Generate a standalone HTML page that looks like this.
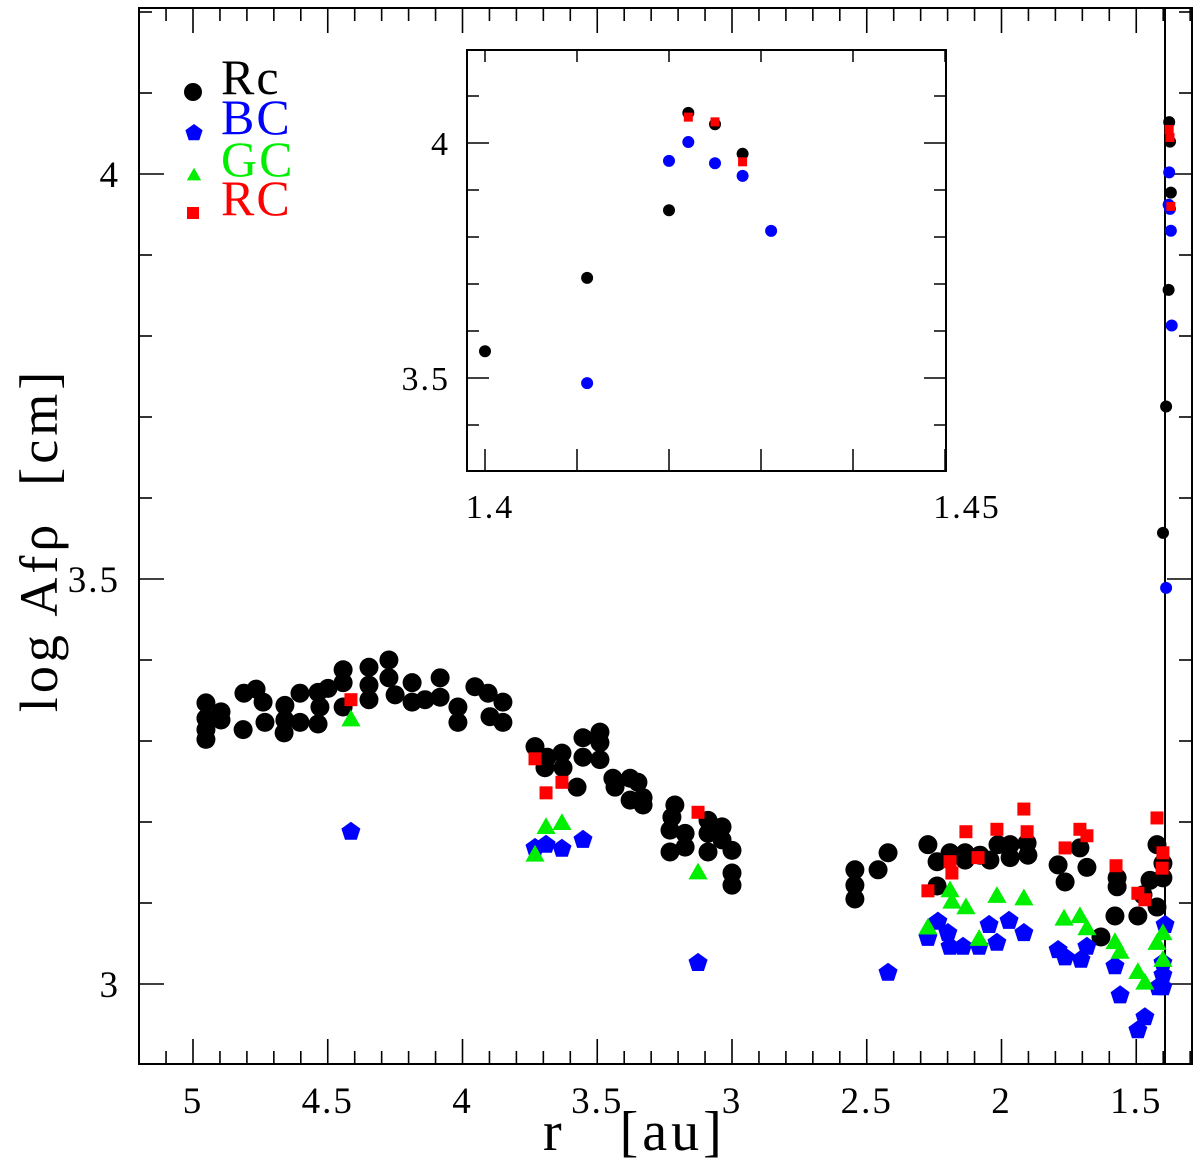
<!DOCTYPE html>
<html><head><meta charset="utf-8"><style>
html,body{margin:0;padding:0;background:#fff;width:1200px;height:1160px;overflow:hidden}
svg text{font-family:"Liberation Serif",serif;white-space:pre}
</style></head><body>
<svg id="chart" width="1200" height="1160" viewBox="0 0 1200 1160" xmlns="http://www.w3.org/2000/svg"></svg>
<script>
// ---- main data ----
const rcR=[4.952,4.952,4.952,4.952,4.896,4.896,4.811,4.766,4.814,4.740,4.733,4.659,4.659,4.662,4.603,4.603,4.536,4.529,4.536,4.499,4.443,4.443,4.443,4.347,4.347,4.347,4.273,4.273,4.250,4.187,4.187,4.139,4.083,4.083,4.017,4.017,3.954,3.905,3.898,3.850,3.850,3.731,3.686,3.694,3.631,3.627,3.575,3.553,3.490,3.490,3.553,3.490,3.442,3.434,3.378,3.349,3.378,3.330,3.330,3.212,3.223,3.230,3.230,3.174,3.174,3.089,3.037,3.089,3.037,3.089,3.000,3.000,3.000,2.544,2.544,2.544,2.458,2.421,2.273,2.239,2.239,2.191,2.135,2.135,2.080,2.043,2.013,1.968,1.968,1.905,1.902,1.790,1.764,1.709,1.683,1.631,1.579,1.571,1.571,1.494,1.475,1.449,1.423,1.423,1.401,1.401];
const rcV=[3.347,3.328,3.314,3.302,3.336,3.326,3.359,3.364,3.314,3.348,3.323,3.344,3.326,3.310,3.359,3.323,3.360,3.342,3.321,3.365,3.388,3.372,3.342,3.391,3.369,3.351,3.400,3.378,3.357,3.372,3.348,3.351,3.378,3.354,3.342,3.323,3.367,3.359,3.330,3.348,3.323,3.293,3.280,3.267,3.285,3.267,3.243,3.304,3.311,3.298,3.280,3.277,3.254,3.243,3.254,3.249,3.227,3.230,3.221,3.221,3.206,3.190,3.163,3.186,3.169,3.202,3.194,3.186,3.178,3.163,3.165,3.137,3.122,3.141,3.122,3.105,3.141,3.162,3.172,3.151,3.121,3.162,3.162,3.153,3.159,3.153,3.172,3.172,3.156,3.174,3.159,3.147,3.126,3.168,3.144,3.058,3.084,3.131,3.120,3.084,3.110,3.128,3.172,3.095,3.149,3.131];
const redR=[4.414,3.731,3.631,3.690,3.126,1.917,2.132,2.017,1.905,1.709,1.683,1.764,2.087,2.191,2.184,2.273,1.423,1.575,1.494,1.468,1.401,1.404];
const redV=[3.351,3.278,3.249,3.236,3.212,3.216,3.188,3.191,3.188,3.191,3.183,3.168,3.156,3.151,3.137,3.115,3.205,3.146,3.112,3.104,3.162,3.143];
const grnR=[4.414,3.690,3.631,3.731,3.126,2.191,2.184,2.132,2.017,1.917,2.273,2.083,1.768,1.709,1.683,1.579,1.560,1.494,1.468,1.423,1.401,1.401];
const grnV=[3.327,3.194,3.199,3.160,3.138,3.116,3.102,3.095,3.109,3.106,3.070,3.056,3.081,3.084,3.069,3.052,3.040,3.015,3.002,3.051,3.063,3.030];
const bluR=[4.414,3.731,3.690,3.631,3.553,3.126,2.421,2.273,2.236,2.199,2.191,2.143,2.083,2.046,2.017,1.972,1.917,1.790,1.764,1.705,1.683,1.579,1.560,1.468,1.494,1.393,1.401,1.401,1.419,1.401];
const bluV=[3.188,3.168,3.172,3.167,3.178,3.026,3.014,3.057,3.077,3.063,3.046,3.046,3.046,3.073,3.051,3.078,3.063,3.042,3.033,3.030,3.046,3.022,2.986,2.959,2.943,3.073,3.026,3.011,2.996,2.996];
// ---- inset data ----
const inBlkR=[1.400,1.4111,1.420,1.4221,1.425,1.428];
const inBlkV=[3.557,3.713,3.857,4.064,4.040,3.977];
const inBluR=[1.4111,1.420,1.4221,1.425,1.428,1.4311];
const inBluV=[3.489,3.962,4.002,3.957,3.930,3.813];
const inRedR=[1.4221,1.425,1.428];
const inRedV=[4.055,4.045,3.960];
const xTicks=["5","4.5","4","3.5","3","2.5","2","1.5"];
const yTicks=["3","3.5","4"];
const inXTicks=["1.4","1.45"];
const inYTicks=["3.5","4"];

const NS="http://www.w3.org/2000/svg";
const svg=document.getElementById('chart');
function mk(tag,attrs,parent){const e=document.createElementNS(NS,tag);for(const k in attrs)e.setAttribute(k,attrs[k]);(parent||svg).appendChild(e);return e;}

const M={l:139,r:1192,t:8,b:1064};
const X=r=>193+(5-r)*269.5;
const Y=v=>984-(v-3)*810;
// perihelion-cluster x mapping in main panel (as plotted in reference)
const PX=r=>1163+(r-1.4)*280;
const I={l:467,r:946,t:50,b:471};
const IX=r=>485+(r-1.4)*9200;
const IY=v=>143-(v-4)*470;

const fr=mk('rect',{x:M.l,y:M.t,width:M.r-M.l,height:M.b-M.t,fill:'none',stroke:'#000','stroke-width':2});


const tg=mk('g',{stroke:'#000','stroke-width':1.6});


for(let k=0;k<=39;k++){const r=1.3+k*0.1;const x=X(r);if(x<M.l||x>M.r)continue;
 const maj=Math.abs(r*2-Math.round(r*2))<1e-6;const L=maj?25:13;
 mk('line',{x1:x,y1:M.b,x2:x,y2:M.b-L},tg);mk('line',{x1:x,y1:M.t,x2:x,y2:M.t+L},tg);}
for(let k=0;k<=13;k++){const v=2.9+k*0.1;const y=Y(v);if(y<M.t||y>M.b)continue;
 const maj=Math.abs(v*2-Math.round(v*2))<1e-6;const L=maj?25:13;
 mk('line',{x1:M.l,y1:y,x2:M.l+L,y2:y},tg);mk('line',{x1:M.r,y1:y,x2:M.r-L,y2:y},tg);}
xTicks.forEach(t=>{const e=mk('text',{x:X(parseFloat(t)),y:1113,'font-size':37,'text-anchor':'middle','letter-spacing':2});e.textContent=t;

});
yTicks.forEach(t=>{const e=mk('text',{x:120,y:Y(parseFloat(t))+13,'font-size':37,'text-anchor':'end','letter-spacing':2});e.textContent=t;

});
const vl=mk('line',{x1:1165,y1:M.t,x2:1165,y2:M.b,stroke:'#000','stroke-width':2});



const xt=mk('text',{x:543,y:1150,'font-size':56,'letter-spacing':4});xt.textContent='r   [au]';


const yt=mk('text',{x:0,y:0,'font-size':54,'text-anchor':'middle','letter-spacing':4,transform:'translate(57,540) rotate(-90)'});yt.textContent='log Afρ  [cm]';



function circle(g,x,y,r,c){return mk('circle',{cx:x,cy:y,r:r,fill:c},g);}
function pent(g,x,y,r,c){let p=[];for(let i=0;i<5;i++){const a=-Math.PI/2+i*2*Math.PI/5;p.push((x+r*Math.cos(a)).toFixed(1)+','+(y+r*Math.sin(a)).toFixed(1));}return mk('polygon',{points:p.join(' '),fill:c},g);}
function tri(g,x,y,s,c){return mk('polygon',{points:`${x},${y-s*0.6} ${x-s*0.6},${y+s*0.45} ${x+s*0.6},${y+s*0.45}`,fill:c},g);}
function sq(g,x,y,s,c){return mk('rect',{x:x-s/2,y:y-s/2,width:s,height:s,fill:c},g);}

function series(name,R,V,fx,fy,draw){const g=mk('g',{});


R.forEach((r,i)=>{const m=draw(g,fx(r),fy(V[i]));

});}

series('rc-series',rcR,rcV,X,Y,(g,x,y)=>circle(g,x,y,9.5,'#000'));
series('rc-series-peri',inBlkR,inBlkV,PX,Y,(g,x,y)=>circle(g,x,y,6,'#000'));
series('bc-series',bluR,bluV,X,Y,(g,x,y)=>pent(g,x,y,10,'#0000ff'));
series('bc-series-peri',inBluR,inBluV,PX,Y,(g,x,y)=>circle(g,x,y,6,'#0000ff'));
series('gc-series',grnR,grnV,X,Y,(g,x,y)=>tri(g,x,y,16,'#00ee00'));
series('rc-red-series',redR,redV,X,Y,(g,x,y)=>sq(g,x,y,13,'#ff0000'));
series('rc-red-series-peri',inRedR,inRedV,PX,Y,(g,x,y)=>sq(g,x,y,9,'#ff0000'));

const lg=mk('g',{});


const leg=[['Rc','#000',92,(g)=>circle(g,193,92,9,'#000')],['BC','#0000ff',132,(g)=>pent(g,194,133,9,'#0000ff')],['GC','#00ee00',174,(g)=>tri(g,194,175,12,'#00ee00')],['RC','#ff0000',213,(g)=>sq(g,193,213,12,'#ff0000')]];
leg.forEach(([t,c,y,d])=>{d(lg);const e=mk('text',{x:221,y:y+2,'font-size':50,fill:c,'letter-spacing':2},lg);e.textContent=t;

});

const ig=mk('rect',{x:I.l,y:I.t,width:I.r-I.l,height:I.b-I.t,fill:'#fff',stroke:'#000','stroke-width':2});


const itg=mk('g',{stroke:'#000','stroke-width':1.5});


for(let k=0;k<=5;k++){const x=IX(1.4+k*0.01);mk('line',{x1:x,y1:I.b,x2:x,y2:I.b-22},itg);mk('line',{x1:x,y1:I.t,x2:x,y2:I.t+12},itg);}
for(let k=0;k<=9;k++){const v=3.3+k*0.1;const y=IY(v);if(y<I.t||y>I.b)continue;const maj=Math.abs(v*2-Math.round(v*2))<1e-6;const L=maj?22:12;
 mk('line',{x1:I.l,y1:y,x2:I.l+L,y2:y},itg);mk('line',{x1:I.r,y1:y,x2:I.r-L,y2:y},itg);}
inXTicks.forEach(t=>{const e=mk('text',{x:IX(parseFloat(t))+(t==='1.45'?22:5),y:518,'font-size':34,'text-anchor':'middle','letter-spacing':2});e.textContent=t;

});
inYTicks.forEach(t=>{const e=mk('text',{x:450,y:IY(parseFloat(t))+12,'font-size':34,'text-anchor':'end','letter-spacing':2});e.textContent=t;

});
series('inset-rc-series',inBlkR,inBlkV,IX,IY,(g,x,y)=>circle(g,x,y,6,'#000'));
series('inset-bc-series',inBluR,inBluV,IX,IY,(g,x,y)=>circle(g,x,y,6,'#0000ff'));
series('inset-red-series',inRedR,inRedV,IX,IY,(g,x,y)=>sq(g,x,y,9,'#ff0000'));
</script>
</body></html>
